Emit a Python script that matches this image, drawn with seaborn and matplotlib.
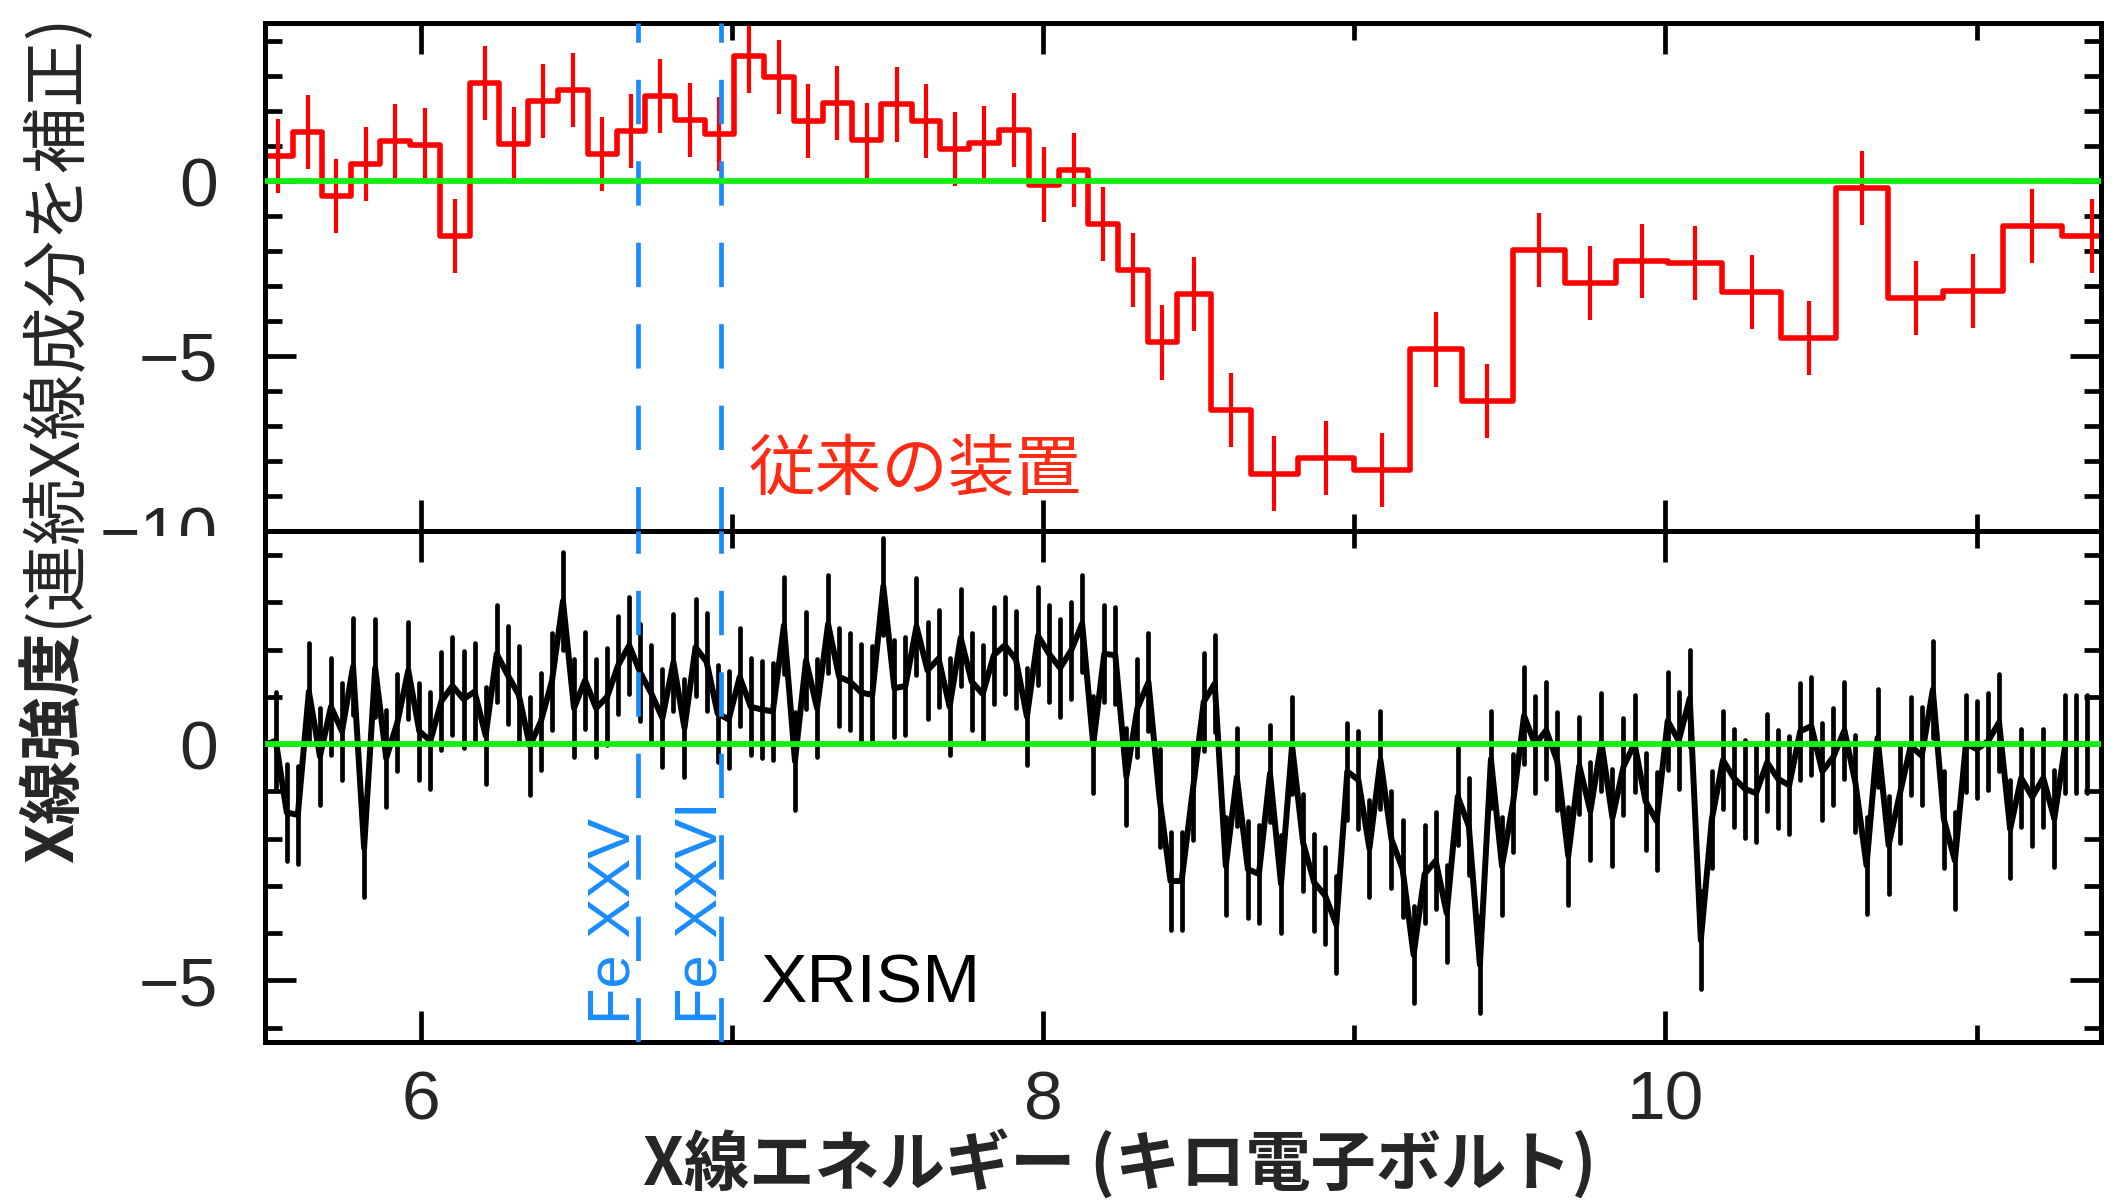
import matplotlib
matplotlib.use("Agg")
import matplotlib.pyplot as plt
from matplotlib.patches import Rectangle
from matplotlib.ticker import MultipleLocator
import numpy as np
import pandas as pd
import seaborn as sns

# ---------------------------------------------------------------------------
# Data
# ---------------------------------------------------------------------------
# Conventional CCD spectrum: bin edges (keV) and continuum-corrected intensity
conv_edges = [5.495, 5.590, 5.684, 5.775, 5.871, 5.966, 6.063, 6.158, 6.253,
              6.345, 6.440, 6.537, 6.631, 6.722, 6.819, 6.913, 7.008, 7.105,
              7.200, 7.292, 7.387, 7.481, 7.578, 7.669, 7.763, 7.860, 7.955,
              8.052, 8.146, 8.242, 8.336, 8.432, 8.539, 8.667, 8.820, 8.998,
              9.178, 9.345, 9.509, 9.676, 9.840, 10.007, 10.183, 10.372,
              10.550, 10.715, 10.893, 11.084, 11.274, 11.470]
conv_values = [0.72, 1.41, -0.43, 0.49, 1.14, 1.04, -1.57, 2.80, 1.06, 2.29,
               2.61, 0.77, 1.44, 2.42, 1.75, 1.34, 3.57, 2.98, 1.73, 2.22,
               1.16, 2.19, 1.73, 0.92, 1.08, 1.46, -0.10, 0.31, -1.22, -2.55,
               -4.62, -3.24, -6.56, -8.37, -7.92, -8.27, -4.82, -6.30, -1.97,
               -2.93, -2.30, -2.34, -3.17, -4.50, -0.20, -3.35, -3.15, -1.30,
               -1.57]
conv_err = 1.06

# XRISM Resolve spectrum: channel energies (keV) and continuum-corrected intensity
xrism_energy = [
    5.4990, 5.5345, 5.5700, 5.6055, 5.6410, 5.6765, 5.7120, 5.7475, 5.7830, 5.8185,
    5.8540, 5.8895, 5.9250, 5.9605, 5.9960, 6.0315, 6.0670, 6.1025, 6.1380, 6.1735,
    6.2090, 6.2445, 6.2800, 6.3155, 6.3510, 6.3865, 6.4220, 6.4575, 6.4930, 6.5285,
    6.5640, 6.5995, 6.6350, 6.6705, 6.7060, 6.7415, 6.7770, 6.8125, 6.8480, 6.8835,
    6.9190, 6.9545, 6.9900, 7.0255, 7.0610, 7.0965, 7.1320, 7.1675, 7.2030, 7.2385,
    7.2740, 7.3095, 7.3450, 7.3805, 7.4160, 7.4515, 7.4870, 7.5225, 7.5580, 7.5935,
    7.6290, 7.6645, 7.7000, 7.7355, 7.7710, 7.8065, 7.8420, 7.8775, 7.9130, 7.9485,
    7.9840, 8.0195, 8.0550, 8.0905, 8.1260, 8.1615, 8.1970, 8.2325, 8.2680, 8.3035,
    8.3390, 8.3745, 8.4100, 8.4455, 8.4810, 8.5165, 8.5520, 8.5875, 8.6230, 8.6585,
    8.6940, 8.7295, 8.7650, 8.8005, 8.8360, 8.8715, 8.9070, 8.9425, 8.9780, 9.0135,
    9.0490, 9.0845, 9.1200, 9.1555, 9.1910, 9.2265, 9.2620, 9.2975, 9.3330, 9.3685,
    9.4040, 9.4395, 9.4750, 9.5105, 9.5460, 9.5815, 9.6170, 9.6525, 9.6880, 9.7235,
    9.7590, 9.7945, 9.8300, 9.8655, 9.9010, 9.9365, 9.9720, 10.0075, 10.0430, 10.0785,
    10.1140, 10.1495, 10.1850, 10.2205, 10.2560, 10.2915, 10.3270, 10.3625, 10.3980, 10.4335,
    10.4690, 10.5045, 10.5400, 10.5755, 10.6110, 10.6465, 10.6820, 10.7175, 10.7530, 10.7885,
    10.8240, 10.8595, 10.8950, 10.9305, 10.9660, 11.0015, 11.0370, 11.0725, 11.1080, 11.1435,
    11.1790, 11.2145, 11.2500, 11.2855, 11.3210, 11.3565,
]
xrism_values = [
    -0.02, 0.07, -1.45, -1.50, 1.11, -0.26, 0.79, 0.27, 1.64, -2.20,
    1.61, -0.30, 0.45, 1.56, 0.27, 0.07, 0.91, 1.23, 0.95, 1.11,
    0.18, 1.91, 1.46, 1.04, -0.04, 0.48, 1.33, 3.03, 0.76, 1.35,
    0.76, 1.00, 1.67, 2.09, 1.51, 1.07, 0.55, 1.73, 0.34, 2.05,
    1.74, 0.65, 0.52, 1.42, 0.79, 0.73, 0.69, 2.51, -0.36, 1.77,
    0.76, 2.54, 1.42, 1.32, 1.09, 1.04, 3.34, 1.18, 1.23, 2.49,
    1.56, 1.81, 0.79, 2.25, 1.32, 1.06, 1.88, 2.09, 1.79, 0.58,
    2.29, 1.91, 1.61, 1.98, 2.55, -0.01, 1.91, 1.88, -0.69, 0.76,
    1.31, -1.14, -2.90, -2.90, -1.00, 0.89, 1.28, -2.58, -0.70, -2.65,
    -2.75, -0.62, -2.96, -0.03, -2.09, -2.93, -3.21, -3.82, -0.58, -0.76,
    -2.21, -0.34, -2.02, -2.64, -4.46, -2.75, -2.47, -3.58, -1.11, -1.74,
    -4.67, -0.32, -2.58, -1.25, 0.60, -0.01, 0.29, -0.36, -2.37, -0.46,
    -1.42, 0.04, -1.56, -0.48, 0.01, -1.21, -1.63, 0.49, 0.07, 0.97,
    -4.15, -1.59, -0.34, -0.72, -0.95, -1.04, -0.39, -0.74, -0.87, 0.27,
    0.38, -0.58, -0.27, 0.29, -0.83, -2.57, 0.13, -2.14, -1.07, -0.04,
    -0.25, 1.15, -1.59, -2.47, 0.01, -0.11, 0.06, 0.46, -1.80, -0.72,
    -1.12, -0.72, -1.58, 0.00, 0.00, 0.00,
]
xrism_err = 1.03

# Iron emission line energies (keV)
fe_line_energy = [6.700, 6.966]
fe_line_label = ["Fe XXV", "Fe XXVI"]
fe_label_x = [6.670, 6.952]

# ---------------------------------------------------------------------------
# Style
# ---------------------------------------------------------------------------
sns.set_theme(style="ticks")
plt.rcParams["font.family"] = ["Liberation Sans", "Noto Sans CJK JP", "DejaVu Sans"]
plt.rcParams["axes.unicode_minus"] = True

RED = "#ff0000"
RED_TEXT = "#ff2a14"
BLUE = "#1a8cff"
GREEN = "#14ee14"
CJK = ["Noto Sans CJK JP", "DejaVu Sans"]

W, H = 2114, 1200
fig = plt.figure(figsize=(W / 100, H / 100), dpi=100)
fig.patch.set_facecolor("white")

left, right = 265 / W, 2101 / W
ax_top = fig.add_axes([left, 1 - 530.5 / H, right - left, (530.5 - 23.4) / H])
ax_bot = fig.add_axes([left, 1 - 1041.7 / H, right - left, (1041.7 - 530.5) / H])

# ---------------------------------------------------------------------------
# Top panel: conventional instrument (step histogram with error bars)
# ---------------------------------------------------------------------------
conv_df = pd.DataFrame({"energy": conv_edges,
                        "value": conv_values + [conv_values[-1]]})
sns.lineplot(data=conv_df, x="energy", y="value", ax=ax_top, color=RED,
             drawstyle="steps-post", estimator=None, sort=False,
             linewidth=4.0, zorder=2)
edges = np.asarray(conv_edges)
centers = 0.5 * (edges[:-1] + edges[1:])
cv = np.asarray(conv_values)
ax_top.vlines(centers, cv - conv_err, cv + conv_err, colors=RED,
              linewidth=3.0, zorder=2)
ax_top.text(7.055, -8.3, "従来の装置", color=RED_TEXT, fontsize=48,
            family=CJK, ha="left", va="center")

# ---------------------------------------------------------------------------
# Bottom panel: XRISM (line with error bars)
# ---------------------------------------------------------------------------
xr_df = pd.DataFrame({"energy": xrism_energy, "value": xrism_values})
sns.lineplot(data=xr_df, x="energy", y="value", ax=ax_bot, color="black",
             estimator=None, sort=False, linewidth=4.3, zorder=2,
             solid_joinstyle="round", solid_capstyle="round")
xv = np.asarray(xrism_values)
ax_bot.vlines(xrism_energy, xv - xrism_err, xv + xrism_err, colors="black",
              linewidth=3.4, zorder=2, capstyle="round")
ax_bot.text(7.093, -5.47, "XRISM", color="black", fontsize=50,
            ha="left", va="baseline")
for xl, lab in zip(fe_label_x, fe_line_label):
    ax_bot.text(xl, -5.93, lab, color=BLUE, fontsize=43, rotation=90,
                rotation_mode="anchor", ha="left", va="baseline")

# ---------------------------------------------------------------------------
# Shared decorations
# ---------------------------------------------------------------------------
for ax in (ax_top, ax_bot):
    for e in fe_line_energy:
        ax.axvline(e, color=BLUE, linewidth=3.4, linestyle=(0, (9.4, 7.85)),
                   zorder=3)
    ax.axhline(0, color=GREEN, linewidth=4.2, zorder=4)
    ax.set_xlim(5.5, 11.4)
    ax.set_xlabel("")
    ax.set_ylabel("")
    ax.xaxis.set_major_locator(MultipleLocator(2))
    ax.xaxis.set_minor_locator(MultipleLocator(1))
    ax.yaxis.set_major_locator(MultipleLocator(5))
    ax.yaxis.set_minor_locator(MultipleLocator(1))
    ax.tick_params(which="both", direction="in", top=True, right=True,
                   width=3.4, color="black")
    ax.tick_params(which="major", length=22.5, labelsize=50)
    ax.tick_params(which="minor", length=12)
    ax.tick_params(axis="y", which="major", pad=34)
    ax.tick_params(axis="x", which="major", pad=20)
    for s in ax.spines.values():
        s.set_linewidth(3.6)
        s.set_color("black")
    ax.set_facecolor("white")

ax_top.set_ylim(-10, 4.51)
ax_bot.set_ylim(-6.30, 4.52)
ax_top.tick_params(labelbottom=False)

# the lower panel sits on top of the upper panel's bottom tick label
fig.add_artist(Rectangle((90 / W, 1 - 585 / H), 172 / W, 49 / H,
                         transform=fig.transFigure, facecolor="white",
                         edgecolor="none", zorder=10))

# Axis titles
fig.text(1119.5 / W, 1 - 1165 / H, "X線エネルギー (キロ電子ボルト)",
         family=CJK, fontsize=47, fontweight="bold", ha="center", va="center")

renderer = fig.canvas.get_renderer()
ylab_x = 74 / W
t_bold = fig.text(ylab_x, 1 - 863 / H, "X線強度", family=CJK, fontsize=46,
                  fontweight="bold", rotation=90, rotation_mode="anchor",
                  ha="left", va="baseline")
bb = t_bold.get_window_extent(renderer)
fig.text(ylab_x, (bb.y1 + 4) / H, "(連続X線成分を補正)", family=CJK,
         fontsize=48, rotation=90, rotation_mode="anchor",
         ha="left", va="baseline")

fig.savefig("out.png", dpi=100, facecolor="white")
